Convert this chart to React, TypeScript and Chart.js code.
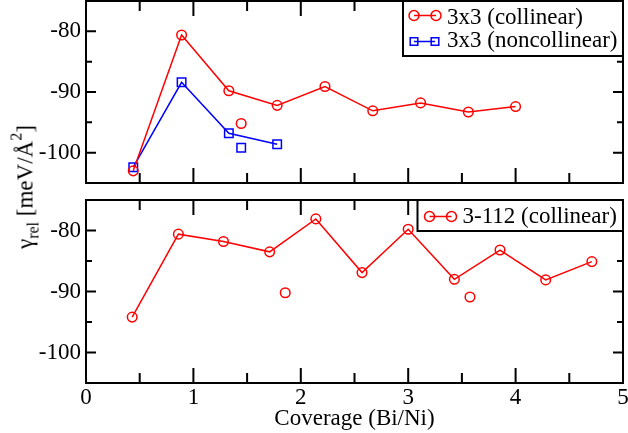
import React, { useEffect, useRef } from 'react';
import { Chart, registerables } from 'chart.js';

Chart.register(...registerables);

// ---------- data ----------
const xTickValues = [0, 1, 2, 3, 4, 5];
const xMinorValues = [0.5, 1.5, 2.5, 3.5, 4.5];
const yTickValues = [-100, -90, -80];
const yMinorValues = [-105, -95, -85, -75];

// top panel: 3x3 collinear
const coll3x3X = [0.44, 0.89, 1.33, 1.78, 2.225, 2.67, 3.115, 3.56, 4.0];
const coll3x3Y = [-103.0, -80.6, -89.8, -92.2, -89.1, -93.1, -91.8, -93.3, -92.4];
const coll3x3ExtraX = [1.445];
const coll3x3ExtraY = [-95.2];
// top panel: 3x3 noncollinear
const nonc3x3X = [0.44, 0.89, 1.33, 1.78];
const nonc3x3Y = [-102.4, -88.4, -96.8, -98.6];
const nonc3x3ExtraX = [1.445];
const nonc3x3ExtraY = [-99.2];

// bottom panel: 3-112 collinear
const coll3112X = [0.43, 0.86, 1.28, 1.71, 2.14, 2.57, 3.0, 3.43, 3.855, 4.28, 4.71];
const coll3112Y = [-94.2, -80.6, -81.8, -83.5, -78.1, -86.9, -79.8, -88.0, -83.2, -88.1, -85.1];
const coll3112ExtraX = [1.855, 3.575];
const coll3112ExtraY = [-90.2, -90.9];

const labelColl3x3 = '3x3 (collinear)';
const labelNonc3x3 = '3x3 (noncollinear)';
const labelColl3112 = '3-112 (collinear)';
const xTitle = 'Coverage (Bi/Ni)';

const RED = '#ff0000';
const BLUE = '#0000ff';
const FONT = 'Liberation Serif';

const pts = (xs: number[], ys: number[]) => xs.map((x, i) => ({ x, y: ys[i] }));

function lineSet(data: any[], color: string, style: string, radius: number, showLine: boolean) {
  return {
    data,
    showLine,
    borderColor: color,
    backgroundColor: 'rgba(0,0,0,0)',
    borderWidth: 1.5,
    pointStyle: style,
    pointRadius: radius,
    pointBorderWidth: 1.5,
    pointBorderColor: color,
    pointBackgroundColor: 'rgba(0,0,0,0)',
    tension: 0,
  };
}

const frameTicks = {
  id: 'frameTicks',
  afterDatasetsDraw(chart: any, _args: any, opts: any) {
    const { ctx, chartArea: a, scales } = chart;
    const sx = scales.x;
    const sy = scales.y;
    ctx.save();
    ctx.strokeStyle = '#000';
    ctx.lineWidth = 2;
    ctx.beginPath();
    const xt = (vals: number[], len: number) => {
      for (const v of vals) {
        const px = sx.getPixelForValue(v);
        ctx.moveTo(px, a.bottom);
        ctx.lineTo(px, a.bottom - len);
        ctx.moveTo(px, a.top);
        ctx.lineTo(px, a.top + len);
      }
    };
    const yt = (vals: number[], len: number) => {
      for (const v of vals) {
        const py = sy.getPixelForValue(v);
        ctx.moveTo(a.left, py);
        ctx.lineTo(a.left + len, py);
        ctx.moveTo(a.right, py);
        ctx.lineTo(a.right - len, py);
      }
    };
    xt(xTickValues, opts.xMajor);
    xt(xMinorValues, opts.xMinor);
    yt(yTickValues, opts.yMajor);
    yt(yMinorValues, opts.yMinor);
    ctx.stroke();
    ctx.strokeRect(a.left, a.top, a.right - a.left, a.bottom - a.top);
    ctx.restore();
  },
};

const boxLegend = {
  id: 'boxLegend',
  afterDraw(chart: any, _args: any, opts: any) {
    if (!opts || !opts.rows) return;
    const { ctx, chartArea: a } = chart;
    const left = a.right - opts.width;
    const top = a.top;
    ctx.save();
    ctx.fillStyle = '#fff';
    ctx.fillRect(left, top, opts.width, opts.height);
    ctx.strokeStyle = '#000';
    ctx.lineWidth = 2;
    ctx.strokeRect(left, top, opts.width, opts.height);
    for (const r of opts.rows) {
      ctx.strokeStyle = r.color;
      ctx.lineWidth = 1.5;
      ctx.beginPath();
      ctx.moveTo(left + r.m1, top + r.my);
      ctx.lineTo(left + r.m2, top + r.my);
      ctx.stroke();
      for (const mx of [r.m1, r.m2]) {
        ctx.beginPath();
        if (r.shape === 'circle') {
          ctx.arc(left + mx, top + r.my, r.size, 0, Math.PI * 2);
        } else {
          ctx.rect(left + mx - r.size, top + r.my - r.size, r.size * 2, r.size * 2);
        }
        ctx.stroke();
      }
      ctx.fillStyle = '#000';
      ctx.font = `23px "${FONT}"`;
      ctx.textBaseline = 'middle';
      ctx.textAlign = 'left';
      ctx.fillText(r.text, left + r.tx, top + r.ty);
    }
    ctx.restore();
  },
};

function zeroPad(s: any) {
  s.paddingTop = 0;
  s.paddingBottom = 0;
  s.paddingLeft = 0;
  s.paddingRight = 0;
}

function yScale() {
  return {
    type: 'linear',
    min: -105,
    max: -75,
    afterFit: (s: any) => {
      s.width = 86;
      zeroPad(s);
    },
    afterBuildTicks: (s: any) => {
      s.ticks = yTickValues.map((v) => ({ value: v }));
    },
    grid: { display: false, drawTicks: false },
    border: { display: false },
    ticks: {
      color: '#000',
      padding: 5,
      font: { family: FONT, size: 23 },
      callback: (v: any) => String(v),
    },
  };
}

export default function App() {
  const topRef = useRef<HTMLCanvasElement>(null);
  const botRef = useRef<HTMLCanvasElement>(null);

  useEffect(() => {
    const tickOpts = { xMajor: 15, xMinor: 10, yMajor: 10, yMinor: 6 };
    const top = new Chart(topRef.current as HTMLCanvasElement, {
      type: 'scatter',
      data: {
        datasets: [
          lineSet(pts(coll3x3X, coll3x3Y), RED, 'circle', 4.8, true),
          lineSet(pts(coll3x3ExtraX, coll3x3ExtraY), RED, 'circle', 4.8, false),
          lineSet(pts(nonc3x3X, nonc3x3Y), BLUE, 'rect', 6, true),
          lineSet(pts(nonc3x3ExtraX, nonc3x3ExtraY), BLUE, 'rect', 6, false),
        ] as any,
      },
      options: {
        animation: false,
        responsive: false,
        devicePixelRatio: 1,
        layout: { autoPadding: false, padding: { left: 0, right: 5, top: 1, bottom: 7 } },
        scales: {
          x: { type: 'linear', min: 0, max: 5, display: false },
          y: yScale() as any,
        },
        plugins: {
          legend: { display: false },
          tooltip: { enabled: false },
          frameTicks: tickOpts,
          boxLegend: {
            width: 220,
            height: 55,
            rows: [
              { color: RED, shape: 'circle', size: 5, m1: 11, m2: 33, my: 14.5, tx: 44, ty: 16.5, text: labelColl3x3 },
              { color: BLUE, shape: 'rect', size: 3.8, m1: 11, m2: 32, my: 40.5, tx: 44, ty: 39.5, text: labelNonc3x3 },
            ],
          },
        } as any,
      },
      plugins: [frameTicks, boxLegend],
    });

    const bot = new Chart(botRef.current as HTMLCanvasElement, {
      type: 'scatter',
      data: {
        datasets: [
          lineSet(pts(coll3112X, coll3112Y), RED, 'circle', 4.8, true),
          lineSet(pts(coll3112ExtraX, coll3112ExtraY), RED, 'circle', 4.8, false),
        ] as any,
      },
      options: {
        animation: false,
        responsive: false,
        devicePixelRatio: 1,
        layout: { autoPadding: false, padding: { left: 0, right: 5, top: 10, bottom: 0 } },
        scales: {
          x: {
            type: 'linear',
            min: 0,
            max: 5,
            afterFit: (s: any) => {
              s.height = 50;
              zeroPad(s);
            },
            afterBuildTicks: (s: any) => {
              s.ticks = xTickValues.map((v) => ({ value: v }));
            },
            grid: { display: false, drawTicks: false },
            border: { display: false },
            ticks: {
              color: '#000',
              padding: 1,
              maxRotation: 0,
              font: { family: FONT, size: 23 },
              callback: (v: any) => String(v),
            },
            title: {
              display: true,
              text: xTitle,
              color: '#000',
              padding: { top: 0, bottom: 0 },
              font: { family: FONT, size: 23 },
            },
          } as any,
          y: yScale() as any,
        },
        plugins: {
          legend: { display: false },
          tooltip: { enabled: false },
          frameTicks: tickOpts,
          boxLegend: {
            width: 205.5,
            height: 31,
            rows: [
              { color: RED, shape: 'circle', size: 5, m1: 12, m2: 34, my: 16.5, tx: 45, ty: 16.5, text: labelColl3112 },
            ],
          },
        } as any,
      },
      plugins: [frameTicks, boxLegend],
    });

    return () => {
      top.destroy();
      bot.destroy();
    };
  }, []);

  return (
    <div
      style={{
        position: 'absolute',
        left: 0,
        top: 0,
        width: 628,
        height: 433,
        background: '#fff',
        overflow: 'hidden',
        fontFamily: `"${FONT}", serif`,
      }}
    >
      <canvas ref={topRef} width={628} height={190} style={{ position: 'absolute', left: 0, top: 0 }} />
      <canvas ref={botRef} width={628} height={243} style={{ position: 'absolute', left: 0, top: 190 }} />
      <div
        style={{
          position: 'absolute',
          left: 26,
          top: 187,
          transform: 'translate(-50%, -50%) rotate(-90deg)',
          whiteSpace: 'nowrap',
          fontSize: 23,
          lineHeight: '23px',
          color: '#000',
        }}
      >
        γ<span style={{ fontSize: 16, position: 'relative', top: 6 }}>rel</span> [meV/Å
        <span style={{ fontSize: 16, position: 'relative', top: -11 }}>2</span>]
      </div>
    </div>
  );
}
